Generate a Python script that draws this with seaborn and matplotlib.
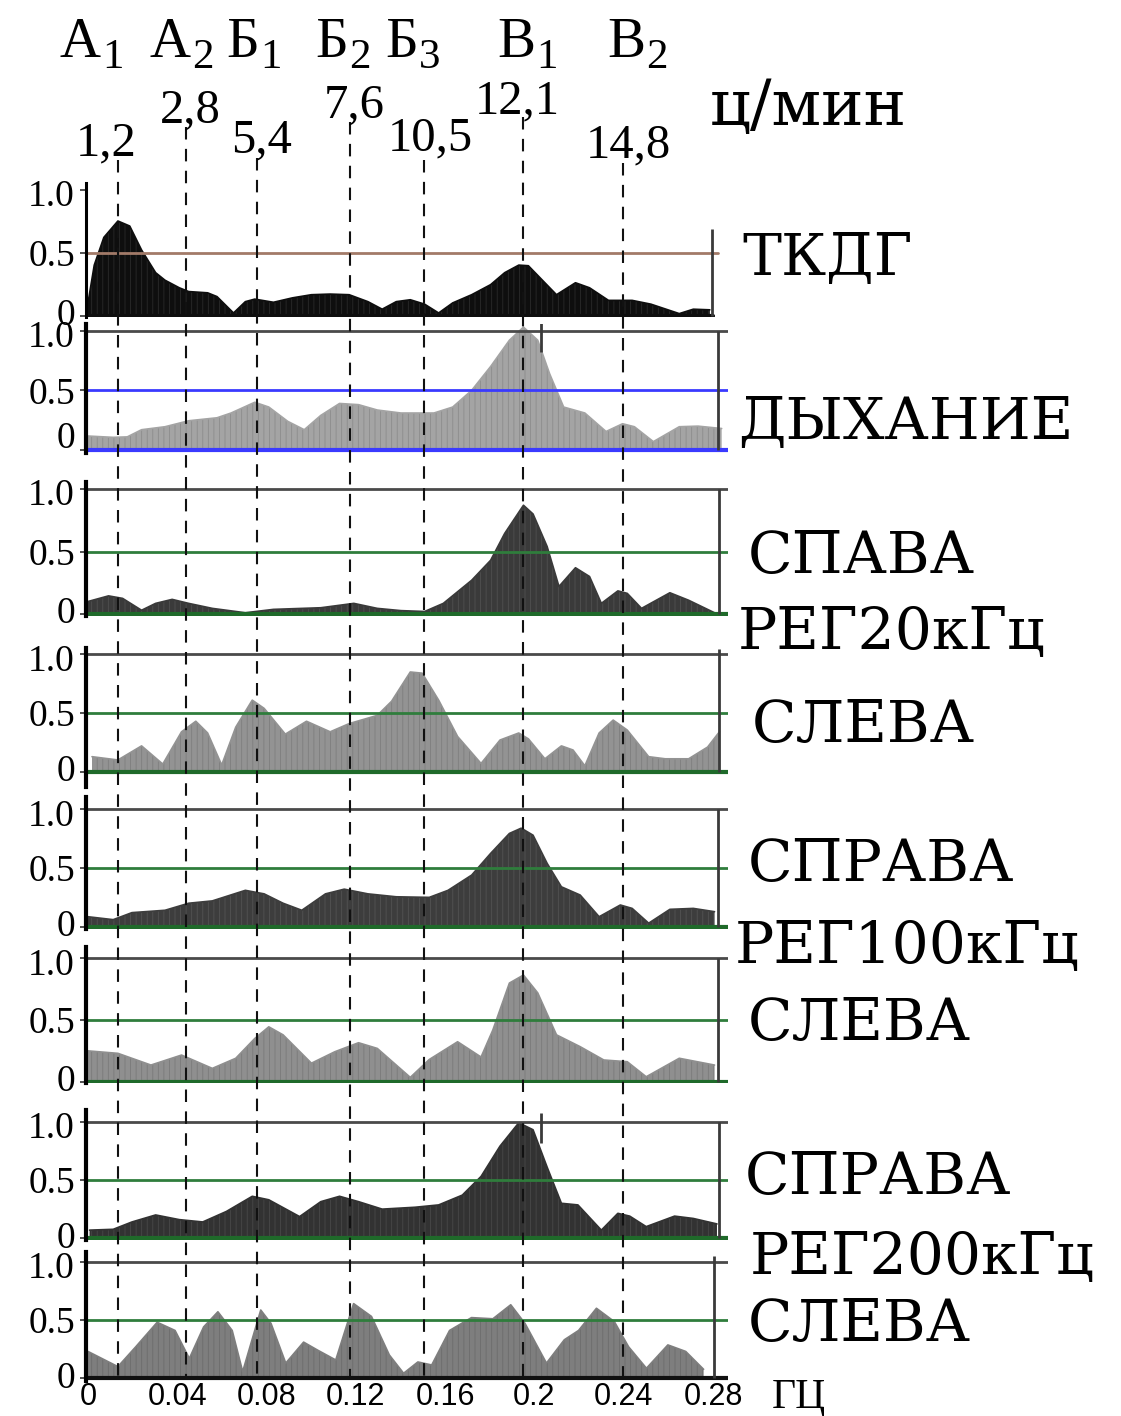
import numpy as np
import pandas as pd
import matplotlib
matplotlib.use("Agg")
import matplotlib.pyplot as plt
import seaborn as sns
from matplotlib.transforms import ScaledTranslation

sns.set_style("white")
plt.rcParams["font.family"] = ["Liberation Serif", "DejaVu Serif"]
plt.rcParams["hatch.linewidth"] = 0.6
plt.rcParams["text.color"] = "black"
plt.rcParams["xtick.color"] = "black"
plt.rcParams["ytick.color"] = "black"
plt.rcParams["xtick.labelcolor"] = "black"
plt.rcParams["ytick.labelcolor"] = "black"

# ---------------- data ----------------
tkdg_hz = [0.0, 0.0028, 0.0071, 0.0134, 0.0187, 0.0240, 0.0303, 0.0345, 0.0409, 0.0451, 0.0536, 0.0578,
           0.0652, 0.0705, 0.0747, 0.0831, 0.0916, 0.1001, 0.1085, 0.1170, 0.1254, 0.1318, 0.1381, 0.1444,
           0.1508, 0.1571, 0.1634, 0.1719, 0.1804, 0.1867, 0.1930, 0.1973, 0.2036, 0.2099, 0.2184, 0.2247,
           0.2332, 0.2438, 0.2522, 0.2649, 0.2712, 0.2786]
tkdg_val = [0.10, 0.40, 0.62, 0.75, 0.71, 0.52, 0.34, 0.28, 0.22, 0.19, 0.18, 0.15,
            0.02, 0.11, 0.13, 0.105, 0.14, 0.165, 0.17, 0.165, 0.11, 0.05, 0.11, 0.125,
            0.09, 0.02, 0.10, 0.165, 0.245, 0.34, 0.40, 0.395, 0.28, 0.165, 0.26, 0.22,
            0.12, 0.12, 0.09, 0.015, 0.05, 0.045]

resp_hz = [0.0, 0.0113, 0.0176, 0.0240, 0.0345, 0.0451, 0.0578, 0.0641, 0.0747, 0.0810, 0.0895, 0.0969,
           0.1043, 0.1127, 0.1212, 0.1296, 0.1402, 0.1550, 0.1634, 0.1719, 0.1804, 0.1888, 0.1951, 0.2015,
           0.2068, 0.2131, 0.2226, 0.2321, 0.2395, 0.2448, 0.2533, 0.2649, 0.2733, 0.2839]
resp_val = [0.117, 0.106, 0.11, 0.17, 0.195, 0.245, 0.27, 0.31, 0.40, 0.36, 0.24, 0.17,
            0.29, 0.39, 0.38, 0.335, 0.31, 0.31, 0.36, 0.50, 0.70, 0.92, 1.03, 0.92,
            0.64, 0.36, 0.31, 0.155, 0.22, 0.195, 0.07, 0.195, 0.20, 0.18]

r20_hz = [0.0, 0.0092, 0.0155, 0.0240, 0.0303, 0.0377, 0.0451, 0.0557, 0.0705, 0.0831, 0.1043, 0.1191,
          0.1296, 0.1402, 0.1508, 0.1592, 0.1719, 0.1804, 0.1867, 0.1951, 0.1994, 0.2057, 0.2110, 0.2184,
          0.2247, 0.2300, 0.2374, 0.2416, 0.2480, 0.2607, 0.2691, 0.2807]
r20_val = [0.10, 0.145, 0.125, 0.03, 0.085, 0.117, 0.085, 0.045, 0.01, 0.037, 0.05, 0.085,
           0.045, 0.027, 0.02, 0.085, 0.27, 0.43, 0.645, 0.87, 0.80, 0.54, 0.22, 0.37,
           0.30, 0.085, 0.185, 0.165, 0.045, 0.17, 0.11, 0.01]

l20_hz = [0.0018, 0.0134, 0.0240, 0.0335, 0.0419, 0.0483, 0.0536, 0.0599, 0.0662, 0.0736, 0.0789, 0.0884,
          0.0979, 0.1085, 0.1170, 0.1296, 0.1360, 0.1444, 0.1497, 0.1571, 0.1656, 0.1761, 0.1846, 0.1930,
          0.1973, 0.2047, 0.2121, 0.2173, 0.2226, 0.2290, 0.2353, 0.2416, 0.2512, 0.2586, 0.2691, 0.2776,
          0.2829]
l20_val = [0.128, 0.10, 0.22, 0.065, 0.34, 0.43, 0.33, 0.057, 0.38, 0.61, 0.54, 0.32,
           0.43, 0.34, 0.41, 0.48, 0.60, 0.85, 0.84, 0.61, 0.30, 0.07, 0.27, 0.33,
           0.28, 0.11, 0.22, 0.185, 0.05, 0.33, 0.44, 0.355, 0.128, 0.11, 0.11, 0.21,
           0.34]

r100_hz = [0.0, 0.0113, 0.0197, 0.0345, 0.0451, 0.0557, 0.0705, 0.0789, 0.0874, 0.0958, 0.1064, 0.1148,
           0.1254, 0.1381, 0.1529, 0.1613, 0.1719, 0.1804, 0.1888, 0.1941, 0.1994, 0.2057, 0.2121, 0.2205,
           0.2290, 0.2385, 0.2438, 0.2512, 0.2607, 0.2712, 0.2807]
r100_val = [0.085, 0.06, 0.12, 0.14, 0.20, 0.22, 0.31, 0.28, 0.20, 0.14, 0.28, 0.32,
            0.28, 0.255, 0.25, 0.31, 0.44, 0.625, 0.795, 0.84, 0.78, 0.54, 0.34, 0.27,
            0.085, 0.185, 0.156, 0.03, 0.148, 0.156, 0.128]

l100_hz = [0.0, 0.0134, 0.0282, 0.0419, 0.0557, 0.0662, 0.0747, 0.0810, 0.0874, 0.1001, 0.1106, 0.1212,
           0.1296, 0.1444, 0.1529, 0.1656, 0.1761, 0.1814, 0.1888, 0.1951, 0.2015, 0.2099, 0.2205, 0.2311,
           0.2416, 0.2501, 0.2649, 0.2807]
l100_val = [0.25, 0.23, 0.135, 0.216, 0.108, 0.19, 0.35, 0.445, 0.38, 0.15, 0.243, 0.316,
            0.27, 0.035, 0.18, 0.324, 0.20, 0.42, 0.80, 0.865, 0.72, 0.38, 0.284, 0.176,
            0.162, 0.04, 0.19, 0.135]

r200_hz = [0.0007, 0.0113, 0.0197, 0.0303, 0.0409, 0.0514, 0.0620, 0.0736, 0.0810, 0.0948, 0.1043, 0.1127,
           0.1212, 0.1318, 0.1465, 0.1571, 0.1677, 0.1761, 0.1846, 0.1930, 0.1994, 0.2057, 0.2121, 0.2195,
           0.2300, 0.2374, 0.2427, 0.2501, 0.2628, 0.2712, 0.2818]
r200_val = [0.07, 0.077, 0.14, 0.20, 0.16, 0.14, 0.23, 0.36, 0.33, 0.186, 0.314, 0.36,
            0.314, 0.25, 0.266, 0.286, 0.37, 0.53, 0.79, 0.99, 0.93, 0.61, 0.30, 0.286,
            0.07, 0.214, 0.19, 0.10, 0.19, 0.17, 0.123]

l200_hz = [0.0, 0.0134, 0.0214, 0.0310, 0.0390, 0.0454, 0.0518, 0.0582, 0.0646, 0.0693, 0.0774, 0.0820,
           0.0886, 0.0966, 0.1030, 0.1110, 0.1190, 0.1270, 0.1350, 0.1414, 0.1478, 0.1540, 0.1620, 0.1718,
           0.1814, 0.1894, 0.1958, 0.2054, 0.2134, 0.2198, 0.2278, 0.2358, 0.2422, 0.2502, 0.2598, 0.2678,
           0.2758]
l200_val = [0.23, 0.10, 0.27, 0.48, 0.41, 0.17, 0.44, 0.57, 0.41, 0.057, 0.585, 0.47,
            0.13, 0.31, 0.24, 0.157, 0.64, 0.53, 0.20, 0.043, 0.14, 0.114, 0.41, 0.52,
            0.51, 0.63, 0.47, 0.13, 0.33, 0.41, 0.60, 0.486, 0.27, 0.086, 0.286, 0.23,
            0.077]

right_labels = [["ТКДГ"], ["ДЫХАНИЕ"], ["СПАВА", "РЕГ20кГц"], ["СЛЕВА"],
                ["СПРАВА", "РЕГ100кГц"], ["СЛЕВА"], ["СПРАВА", "РЕГ200кГц"], ["СЛЕВА"]]

line_hz = [0.0134, 0.0439, 0.0757, 0.1174, 0.1505, 0.1949, 0.2397]
line_cpm = ["1,2", "2,8", "5,4", "7,6", "10,5", "12,1", "14,8"]
top_letters = ["А", "А", "Б", "Б", "Б", "В", "В"]
top_subs = ["1", "2", "1", "2", "3", "1", "2"]

x_ticks = [0, 0.04, 0.08, 0.12, 0.16, 0.2, 0.24, 0.28]
x_ticklabels = ["0", "0.04", "0.08", "0.12", "0.16", "0.2", "0.24", "0.28"]
y_ticks = [0, 0.5, 1.0]
y_ticklabels = ["0", "0.5", "1.0"]

series = [(tkdg_hz, tkdg_val), (resp_hz, resp_val), (r20_hz, r20_val), (l20_hz, l20_val),
          (r100_hz, r100_val), (l100_hz, l100_val), (r200_hz, r200_val), (l200_hz, l200_val)]

# ---------------- layout ----------------
W, H = 1121, 1416
fig = plt.figure(figsize=(W / 100, H / 100), dpi=100)
fig.patch.set_facecolor("white")

PX0, PXHZ = 88.0, 2232.0          # pixel of 0 Hz, pixels per Hz
AX_L, AX_R = 86.0, 728.0
XLIM = ((AX_L - PX0) / PXHZ, (AX_R - PX0) / PXHZ)


def hz_at(px):
    return (px - PX0) / PXHZ


def rect(l, t, r, b):
    return [l / W, 1 - b / H, (r - l) / W, (b - t) / H]


# per panel: (pixel of 1.0, pixel of 0, axes top px, axes bottom px)
geo = [(189.5, 315.5, 183, 317), (330.7, 450.0, 324, 453), (489.0, 614.0, 482, 616),
       (654.4, 771.7, 648, 787), (809.4, 926.7, 797, 929), (958.4, 1081.7, 947, 1083),
       (1121.6, 1238.3, 1110, 1240), (1261.6, 1378.3, 1252, 1381)]
fills = ["#0e0e0e", "#a4a4a4", "#3a3a3a", "#939393", "#3d3d3d", "#8f8f8f", "#323232", "#7e7e7e"]
hatchc = ["#2a2a2a", "#8c8c8c", "#505050", "#7e7e7e", "#535353", "#7a7a7a", "#484848", "#6c6c6c"]
mid_col = ["#a27a68", "#3a3aff"] + ["#2f7d3c"] * 6
base_col = ["#0e0e0e", "#3a3aff"] + ["#1f6a2a"] * 5 + ["#111111"]
right_px = [712, 718, 719, 719, 718, 718, 719, 714]
right_top = [0.69, 1.0, 1.0, 1.05, 1.0, 1.0, 1.0, 1.05]
label_pos = [[(742, 256)], [(738, 420)], [(748, 554), (738, 630)], [(752, 723)],
             [(748, 862), (735, 944)], [(748, 1021)], [(745, 1175), (750, 1255)], [(748, 1322)]]

axes = []
for i, ((hz, val), (y1, y0, top, bot)) in enumerate(zip(series, geo)):
    ax = fig.add_axes(rect(AX_L, top, AX_R, bot))
    ax.set_facecolor("none")
    unit = y0 - y1
    ax.set_xlim(*XLIM)
    ax.set_ylim((y0 - bot) / unit, (y0 - top) / unit)
    df = pd.DataFrame({"hz": hz, "val": val})
    ax.fill_between(df["hz"], 0, df["val"], facecolor=fills[i], edgecolor=hatchc[i],
                    hatch="|||", linewidth=0, zorder=2)
    sns.lineplot(data=df, x="hz", y="val", ax=ax, color=fills[i], lw=1.2, sort=False, zorder=3)
    ax.set_xlabel("")
    ax.set_ylabel("")
    for s in ["top", "right", "bottom"]:
        ax.spines[s].set_visible(False)
    ax.spines["left"].set_color("black")
    ax.spines["left"].set_linewidth(2.2 if i == 0 else 3.0)
    ax.spines["left"].set_zorder(6)
    if i == 0:
        ax.axhline(0.5, xmax=(hz_at(718) - XLIM[0]) / (XLIM[1] - XLIM[0]), color=mid_col[i], lw=2, zorder=4)
    else:
        ax.axhline(1.0, color="#4a4a4a", lw=2, zorder=4)
        ax.axhline(0.5, color=mid_col[i], lw=2, zorder=4)
    ax.axhline(0, color=base_col[i], lw=3, zorder=5,
               xmax=1.0 if i != 0 else (hz_at(713) - XLIM[0]) / (XLIM[1] - XLIM[0]))
    ax.vlines(hz_at(right_px[i]), 0, right_top[i], color="#3a3a3a", lw=2, zorder=5)
    if i in (1, 6):
        ax.vlines(hz_at(541), 0.82, 1.07, color="#3a3a3a", lw=2, zorder=5)
    ax.set_yticks(y_ticks)
    ax.set_yticklabels(y_ticklabels, color="black")
    ax.tick_params(axis="y", length=4, width=1.2, color="#333333", pad=4, labelsize=27,
                   direction="out", left=True, labelcolor="black")
    ticklbls = ax.get_yticklabels()
    # nudge the "0" label up and "1.0" label down slightly, as in the picture
    ticklbls[0].set_transform(ticklbls[0].get_transform() +
                              ScaledTranslation(0, 0.15 if i == 1 else 0.04, fig.dpi_scale_trans))
    ticklbls[2].set_transform(ticklbls[2].get_transform() +
                              ScaledTranslation(0, -0.03, fig.dpi_scale_trans))
    if i == 7:
        ax.set_xticks(x_ticks)
        ax.set_xticklabels(x_ticklabels, family="Liberation Sans", fontsize=22, color="black")
        ax.tick_params(axis="x", length=0, pad=1)
    else:
        ax.set_xticks([])
    for text, (lx, ly) in zip(right_labels[i], label_pos[i]):
        fig.text(lx / W, 1 - (ly + 19) / H, text, family="DejaVu Serif", fontsize=42,
                 va="baseline", ha="left", color="black")
    axes.append(ax)

# unit label under x axis
fig.text(772 / W, 1 - 1408 / H, "ГЦ", family="Liberation Serif", fontsize=30, va="baseline", ha="left")

# overlay for dashed marker lines
ov = fig.add_axes(rect(AX_L, 0, AX_R, H))
ov.set_xlim(*XLIM)
ov.set_ylim(H, 0)
ov.axis("off")
ov.patch.set_alpha(0)
line_top = [160, 127, 158, 122, 160, 117, 163]
for x, yt in zip(line_hz, line_top):
    ov.vlines(x, yt, 1380, colors="#111111", linestyles=(0, (6, 4.5)), lw=1.5, zorder=10)

# numbers above lines (c/min)
num_pos = [(106, 155), (190, 122), (262, 152), (354, 117), (430, 150), (517, 113), (628, 157)]
for lab, (nx, ny) in zip(line_cpm, num_pos):
    fig.text(nx / W, 1 - ny / H, lab, family="Liberation Serif", fontsize=35, ha="center", va="baseline")
fig.text(710 / W, 1 - 125 / H, "ц/мин", family="DejaVu Serif", fontsize=46, ha="left", va="baseline")

# letters with subscripts
renderer = fig.canvas.get_renderer()
letter_x = [60, 150, 226, 315, 385, 497, 607]
for let, sub, lx in zip(top_letters, top_subs, letter_x):
    t = fig.text(lx / W, 1 - 57 / H, let, family="Liberation Serif", fontsize=41, ha="left", va="baseline")
    bb = t.get_window_extent(renderer)
    fig.text((bb.x1 + 1) / W, 1 - 68 / H, sub, family="Liberation Serif", fontsize=31,
             ha="left", va="baseline")

fig.savefig("out.png", dpi=100, facecolor="white")
